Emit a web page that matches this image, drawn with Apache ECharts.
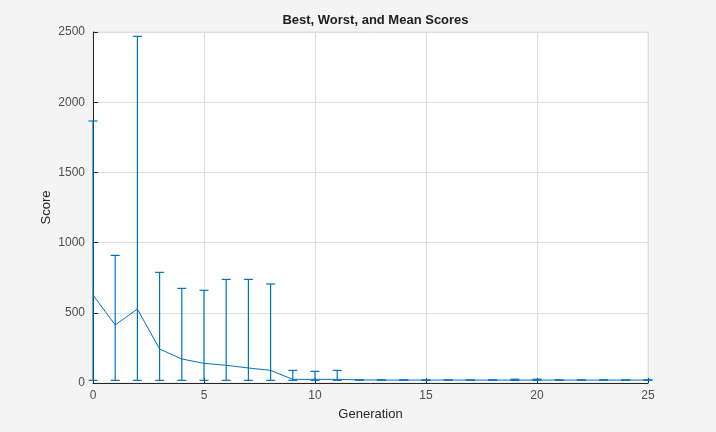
<!DOCTYPE html>
<html>
<head>
<meta charset="utf-8">
<script src="https://cdn.jsdelivr.net/npm/echarts@6/dist/echarts.min.js"></script>
<style>
html,body{margin:0;padding:0;background:#f4f4f4;}
#chart{width:716px;height:432px;}
</style>
</head>
<body>
<div id="chart"></div>
<script>
var generations = [0,1,2,3,4,5,6,7,8,9,10,11,12,13,14,15,16,17,18,19,20,21,22,23,24,25];
var meanScores  = [627,413,527,242,171,140,126,107,90,26,26,26,22,21,21,21,21,21,21,21,21,21,21,21,21,21];
var bestScores  = [19,19,19,19,19,19,19,19,19,19,19,19,21,21,21,21,21,21,21,19,19,21,21,21,21,20];
var worstScores = [1866,909,2469,788,674,660,738,738,705,90,83,90,22,21,21,21,21,21,21,27,27,21,21,21,21,22];
var xTicks = [0,5,10,15,20,25];
var yTicks = [0,500,1000,1500,2000,2500];

var blue = '#0072BD';
var chart = echarts.init(document.getElementById('chart'));
var font = 'Liberation Sans, Arial, Helvetica, sans-serif';

var meanData = generations.map(function(g,i){return [g, meanScores[i]];});
var barData = generations.map(function(g,i){return [g, bestScores[i], worstScores[i]];});

chart.setOption({
  backgroundColor: '#f4f4f4',
  animation: false,
  title: {
    text: 'Best, Worst, and Mean Scores',
    left: 370.5, top: 9, textAlign: 'center',
    textStyle: {fontFamily: font, fontSize: 13, fontWeight: 'bold', color: '#212121'}
  },
  grid: {left: 93, right: 68, top: 32, bottom: 49, show: true, backgroundColor: '#fff', borderColor: '#dedede', borderWidth: 1},
  xAxis: {
    type: 'value', min: xTicks[0], max: xTicks[xTicks.length-1], interval: 5,
    name: 'Generation', nameLocation: 'middle', nameGap: 25,
    nameTextStyle: {fontFamily: font, fontSize: 13, color: '#262626'},
    axisLine: {show: true, onZero: false, lineStyle: {color: '#262626', width: 1}},
    axisTick: {show: true, inside: true, length: 5, lineStyle: {color: '#262626'}},
    axisLabel: {fontFamily: font, fontSize: 12, color: '#4d4d4d', margin: 7, formatter: function(v){return String(v);}},
    splitLine: {show: true, lineStyle: {color: '#dedede', width: 1}}
  },
  yAxis: {
    type: 'value', min: yTicks[0], max: yTicks[yTicks.length-1], interval: 500,
    name: 'Score', nameLocation: 'middle', nameGap: 40, nameRotate: 90, nameMoveOverlap: false,
    nameTextStyle: {fontFamily: font, fontSize: 13, color: '#262626'},
    axisLine: {show: true, onZero: false, lineStyle: {color: '#262626', width: 1}},
    axisTick: {show: true, inside: true, length: 5, lineStyle: {color: '#262626'}},
    axisLabel: {fontFamily: font, fontSize: 12, color: '#4d4d4d', margin: 8, formatter: function(v){return String(v);}},
    splitLine: {show: true, lineStyle: {color: '#dedede', width: 1}}
  },
  series: [
    {
      type: 'line', data: meanData, showSymbol: false, symbol: 'none',
      lineStyle: {color: blue, width: 1}, z: 3
    },
    {
      type: 'custom', data: barData, clip: false, z: 4,
      encode: {x: 0, y: [1,2]},
      renderItem: function(params, api){
        var x = api.value(0);
        var lo = api.coord([x, api.value(1)]);
        var hi = api.coord([x, api.value(2)]);
        var hw = 4.5;
        var st = {stroke: blue, lineWidth: 1.2, fill: null};
        return {type: 'group', children: [
          {type: 'line', shape: {x1: lo[0], y1: lo[1], x2: hi[0], y2: hi[1]}, style: st},
          {type: 'line', shape: {x1: lo[0]-hw, y1: lo[1], x2: lo[0]+hw, y2: lo[1]}, style: st},
          {type: 'line', shape: {x1: hi[0]-hw, y1: hi[1], x2: hi[0]+hw, y2: hi[1]}, style: st}
        ]};
      }
    }
  ]
});
</script>
</body>
</html>
